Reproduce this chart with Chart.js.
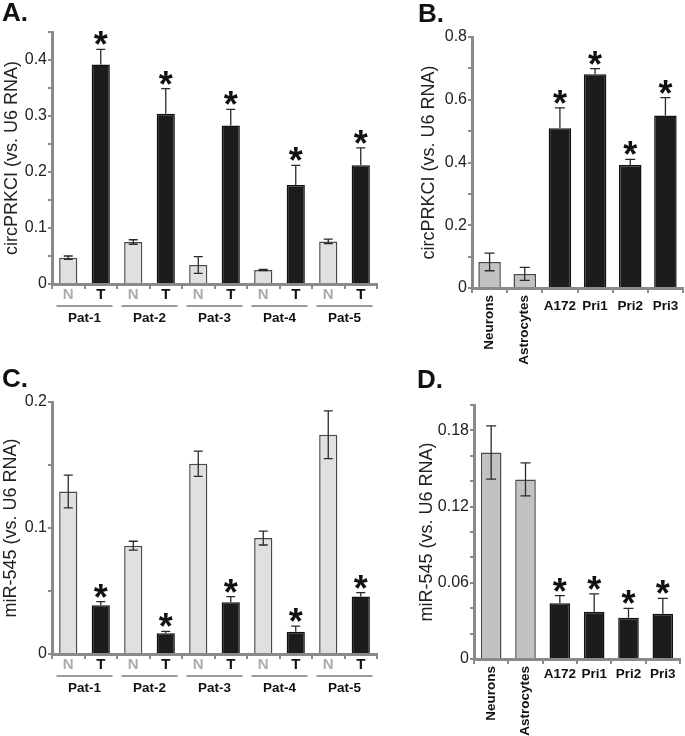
<!DOCTYPE html>
<html><head><meta charset="utf-8">
<script src="https://cdn.jsdelivr.net/npm/chart.js@4"></script>
<style>
html,body{margin:0;padding:0;background:#fff;}
#wrap{position:relative;width:685px;height:736px;overflow:hidden;}
canvas{position:absolute;left:0;top:0;}
</style></head><body>
<div id="wrap">
<canvas id="cA" width="685" height="736"></canvas>
<canvas id="cB" width="685" height="736"></canvas>
<canvas id="cC" width="685" height="736"></canvas>
<canvas id="cD" width="685" height="736"></canvas>
</div>
<script>
// ---------- data ----------
const patients = ['Pat-1','Pat-2','Pat-3','Pat-4','Pat-5'];
const pairLabels = ['N','T'];
const cellLines = ['Neurons','Astrocytes','A172','Pri1','Pri2','Pri3'];
const cellRotated = [true, true, false, false, false, false];
const cellTumor = [false, false, true, true, true, true];

// Panel A: circPRKCI in patient normal (N) / tumor (T)
const circNormal    = [0.047, 0.075, 0.034, 0.025, 0.076];
const circNormalErr = [0.003, 0.004, 0.015, 0.001, 0.004];
const circTumor     = [0.392, 0.304, 0.283, 0.177, 0.212];
const circTumorErr  = [0.027, 0.045, 0.029, 0.035, 0.031];

// Panel B: circPRKCI in cells
const circCells    = [0.083, 0.045, 0.509, 0.681, 0.392, 0.550];
const circCellsErr = [0.028, 0.021, 0.065, 0.018, 0.018, 0.057];

// Panel C: miR-545 in patient N / T
const mirNormal    = [0.129, 0.086, 0.151, 0.092, 0.174];
const mirNormalErr = [0.013, 0.0035, 0.010, 0.0055, 0.019];
const mirTumor     = [0.0386, 0.0164, 0.041, 0.0177, 0.0457];
const mirTumorErr  = [0.003, 0.0016, 0.0045, 0.0045, 0.003];

// Panel D: miR-545 in cells
const mirCells    = [0.1626, 0.1414, 0.0439, 0.0373, 0.0325, 0.0357];
const mirCellsErr = [0.021, 0.013, 0.006, 0.014, 0.0074, 0.012];

// ---------- styling ----------
const FONT = "'Liberation Sans', Arial, Helvetica, sans-serif";
Chart.defaults.font.family = FONT;
const AXIS = '#8a8a8a';
const LIGHT = '#e0e0e0', MID = '#c2c2c2', DARK = '#1c1c1c';

function interleave(a, b) { const r = []; a.forEach((v, i) => { r.push(v); r.push(b[i]); }); return r; }

const extrasPlugin = {
  id: 'extras',
  afterDraw(chart) {
    const o = chart.options.plugins.extras;
    const ctx = chart.ctx, xs = chart.scales.x, ys = chart.scales.y;
    const axisY = ys.getPixelForValue(0);
    ctx.save();
    // error bars
    o.values.forEach((v, i) => {
      const e = o.errors[i];
      const x = xs.getPixelForValue(i);
      const yv = ys.getPixelForValue(v), yt = ys.getPixelForValue(v + e), yb = ys.getPixelForValue(v - e);
      ctx.strokeStyle = '#2a2a2a'; ctx.lineWidth = 1.3;
      ctx.beginPath();
      ctx.moveTo(x, o.dark[i] ? yv : yb); ctx.lineTo(x, yt);
      ctx.moveTo(x - o.cap, yt); ctx.lineTo(x + o.cap, yt);
      if (!o.dark[i]) { ctx.moveTo(x - o.cap, yb); ctx.lineTo(x + o.cap, yb); }
      ctx.stroke();
      if (o.dark[i]) {
        ctx.font = 'bold 36px ' + FONT; ctx.fillStyle = '#111';
        ctx.textAlign = 'center'; ctx.textBaseline = 'alphabetic';
        const m = ctx.measureText('*');
        const bottom = yt - 4;
        ctx.fillText('*', x, bottom - m.actualBoundingBoxDescent);
      }
    });
    // x labels
    if (o.kind === 'pairs') {
      ctx.textAlign = 'center'; ctx.textBaseline = 'middle';
      o.values.forEach((v, i) => {
        const x = xs.getPixelForValue(i);
        ctx.font = 'bold 15px ' + FONT;
        ctx.fillStyle = (i % 2) ? '#111' : '#ababab';
        ctx.fillText(pairLabels[i % 2], x, axisY + 11);
      });
      patients.forEach((p, k) => {
        const mid = (xs.getPixelForValue(2 * k) + xs.getPixelForValue(2 * k + 1)) / 2;
        ctx.strokeStyle = '#9a9a9a'; ctx.lineWidth = 2;
        ctx.beginPath(); ctx.moveTo(mid - 28, axisY + 22); ctx.lineTo(mid + 28, axisY + 22); ctx.stroke();
        ctx.font = 'bold 13.5px ' + FONT; ctx.fillStyle = '#111';
        ctx.fillText(p, mid, axisY + 34);
      });
    } else {
      ctx.font = 'bold 13.5px ' + FONT; ctx.fillStyle = '#111';
      cellLines.forEach((lab, i) => {
        const x = xs.getPixelForValue(i);
        if (cellRotated[i]) {
          ctx.save(); ctx.translate(x, axisY + 7); ctx.rotate(-Math.PI / 2);
          ctx.textAlign = 'right'; ctx.textBaseline = 'middle';
          ctx.fillText(lab, 0, 0); ctx.restore();
        } else {
          ctx.textAlign = 'center'; ctx.textBaseline = 'middle';
          ctx.fillText(lab, x, axisY + o.hLabelDy);
        }
      });
    }
    // panel letter
    ctx.font = 'bold 26px ' + FONT; ctx.fillStyle = '#111';
    ctx.textAlign = 'left'; ctx.textBaseline = 'alphabetic';
    ctx.fillText(o.letter, o.lx, o.ly);
    ctx.restore();
  }
};

function makeChart(id, c) {
  return new Chart(document.getElementById(id), {
    type: 'bar',
    data: {
      labels: c.labels,
      datasets: [{
        data: c.values,
        backgroundColor: c.colors,
        borderColor: c.dark.map(d => d ? '#111' : '#4a4a4a'),
        borderWidth: 1.5,
        borderSkipped: 'bottom',
        categoryPercentage: 1,
        barPercentage: c.barPct
      }]
    },
    plugins: [extrasPlugin],
    options: {
      responsive: false, animation: false,
      layout: { padding: { left: c.padL, right: 685 - c.right, top: c.top, bottom: 736 - c.bottom - 61 } },
      plugins: {
        legend: { display: false }, tooltip: { enabled: false },
        extras: {
          values: c.values, errors: c.errors, dark: c.dark, kind: c.kind, cap: c.cap,
          letter: c.letter, lx: c.lx, ly: c.ly, hLabelDy: c.hLabelDy
        }
      },
      scales: {
        x: {
          type: 'category', offset: true,
          grid: { display: true, offset: true, drawOnChartArea: false, drawTicks: true, tickLength: 5, color: AXIS, lineWidth: 2 },
          border: { display: true, color: AXIS, width: 3 },
          ticks: { display: false, autoSkip: false },
          afterFit: s => { s.height = 61; }
        },
        y: {
          min: 0, max: c.max,
          grid: { drawOnChartArea: false, drawTicks: true, tickLength: 4, color: AXIS, lineWidth: 2 },
          border: { display: true, color: AXIS, width: 3 },
          ticks: { stepSize: c.step, autoSkip: false, color: '#222', padding: 1, font: { size: 16 }, callback: c.fmt },
          title: { display: true, text: c.title, color: '#222', font: { size: 18 }, padding: { top: 0, bottom: 0 } },
          afterFit: s => { s.width = c.yW; }
        }
      }
    }
  });
}

function fmtEvery(div, mult, dec) {
  return v => { const k = Math.round(v * div); return (k % mult === 0) ? (k === 0 ? '0' : (k / div).toFixed(dec)) : ''; };
}

const pairCats = [];
patients.forEach(p => { pairCats.push(p + ' N'); pairCats.push(p + ' T'); });
const pairDark = pairCats.map((_, i) => i % 2 === 1);

makeChart('cA', {
  labels: pairCats, values: interleave(circNormal, circTumor), errors: interleave(circNormalErr, circTumorErr),
  dark: pairDark, colors: pairDark.map(d => d ? DARK : LIGHT), barPct: 0.56, cap: 4.5, kind: 'pairs',
  padL: 1, yW: 51, right: 377, top: 32, bottom: 284, max: 0.45, step: 0.05, fmt: fmtEvery(100, 10, 1),
  title: 'circPRKCI (vs. U6 RNA)', letter: 'A.', lx: 2, ly: 21
});
makeChart('cB', {
  labels: cellLines, values: circCells, errors: circCellsErr,
  dark: cellTumor, colors: cellTumor.map(d => d ? DARK : MID), barPct: 0.64, cap: 5, kind: 'cells', hLabelDy: 18,
  padL: 418, yW: 54, right: 683, top: 37, bottom: 288, max: 0.8, step: 0.1, fmt: fmtEvery(10, 2, 1),
  title: 'circPRKCI (vs. U6 RNA)', letter: 'B.', lx: 418, ly: 22
});
makeChart('cC', {
  labels: pairCats, values: interleave(mirNormal, mirTumor), errors: interleave(mirNormalErr, mirTumorErr),
  dark: pairDark, colors: pairDark.map(d => d ? DARK : LIGHT), barPct: 0.56, cap: 4.5, kind: 'pairs',
  padL: 0, yW: 52, right: 377, top: 402, bottom: 654, max: 0.2, step: 0.05, fmt: fmtEvery(100, 10, 1),
  title: 'miR-545 (vs. U6 RNA)', letter: 'C.', lx: 2, ly: 387
});
makeChart('cD', {
  labels: cellLines, values: mirCells, errors: mirCellsErr,
  dark: cellTumor, colors: cellTumor.map(d => d ? DARK : MID), barPct: 0.6, cap: 5, kind: 'cells', hLabelDy: 15,
  padL: 416, yW: 58, right: 680, top: 405, bottom: 659, max: 0.2, step: 0.02, fmt: fmtEvery(100, 6, 2),
  title: 'miR-545 (vs. U6 RNA)', letter: 'D.', lx: 417, ly: 388
});
</script>
</body></html>
